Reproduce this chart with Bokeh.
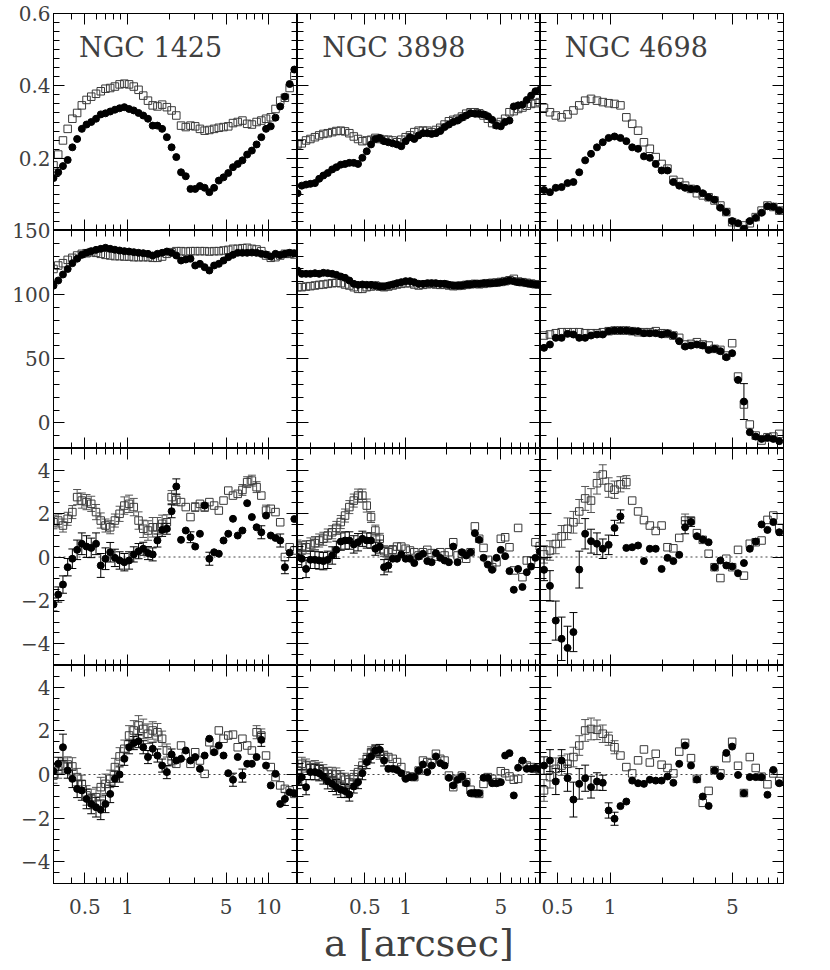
from bokeh.plotting import figure
from bokeh.layouts import gridplot, row, column
from bokeh.models import (Range1d, FixedTicker, LinearAxis, LogAxis, Span, Whisker,
                          TeeHead, ColumnDataSource, Label)
from bokeh.embed import file_html
from bokeh.resources import INLINE

# ---------------------------------------------------------------- data
galaxy_names = ["NGC 1425", "NGC 3898", "NGC 4698"]

# ---- NGC 1425
a_1425 = [0.300, 0.324, 0.350, 0.378, 0.408, 0.441, 0.476, 0.514, 0.555, 0.600, 0.648, 0.700,
          0.756, 0.816, 0.881, 0.952, 1.028, 1.110, 1.200, 1.295, 1.399, 1.511, 1.632, 1.762,
          1.903, 2.056, 2.220, 2.398, 2.590, 2.797, 3.020, 3.262, 3.523, 3.805, 4.110, 4.438,
          4.793, 5.177, 5.591, 6.038, 6.521, 7.043, 7.607, 8.215, 8.872, 9.582, 10.35, 11.18,
          12.07, 13.03, 14.08, 15.20]
ell_1425_f = [0.145, 0.161, 0.178, 0.195, 0.230, 0.253, 0.281, 0.293, 0.300, 0.309, 0.321, 0.324,
              0.329, 0.334, 0.338, 0.341, 0.336, 0.332, 0.325, 0.318, 0.309, 0.290, 0.290, 0.281,
              0.258, 0.230, 0.203, 0.161, 0.150, 0.115, 0.115, 0.123, 0.118, 0.106, 0.118, 0.138,
              0.147, 0.159, 0.175, 0.184, 0.194, 0.210, 0.221, 0.238, 0.258, 0.281, 0.288, 0.312,
              0.343, 0.370, 0.405, 0.445]
ell_1425_o = [0.180, 0.210, 0.249, 0.281, 0.309, 0.325, 0.346, 0.361, 0.370, 0.378, 0.385, 0.392,
              0.394, 0.398, 0.404, 0.406, 0.404, 0.398, 0.389, 0.373, 0.359, 0.346, 0.343, 0.348,
              0.341, 0.332, 0.318, 0.290, 0.286, 0.290, 0.288, 0.281, 0.276, 0.278, 0.281, 0.284,
              0.286, 0.288, 0.297, 0.300, 0.304, 0.295, 0.293, 0.300, 0.304, 0.309, 0.313, 0.336,
              0.359, 0.367, 0.394, 0.428]
pa_1425_f = [107, 111, 115.7, 120, 124.5, 128, 131, 132.6, 133.9, 134.9, 135.7, 136.5,
             135.7, 135, 134.4, 133.9, 133.6, 133.1, 132.6, 132.3, 131.8, 130.5, 131.8, 132.6,
             133.6, 132.6, 130.5, 126.6, 127.4, 128, 122.7, 124, 121.4, 118.8, 122.7, 124,
             126.6, 129.2, 131, 132.6, 132.6, 132.6, 132.8, 132.6, 131.8, 131.3, 129.7, 131.8,
             130.8, 131.8, 132.6, 132.3]
pa_1425_o = [120, 122.7, 124.5, 127.1, 128.7, 130.5, 131.8, 132.3, 133.1, 132.6, 131.8, 131,
             130.5, 130, 130, 129.7, 129.7, 129.2, 129.2, 129.2, 129.2, 128.7, 128.7, 129.7,
             131.8, 133.1, 133.9, 133.9, 133.6, 133.9, 133.9, 133.9, 133.9, 133.6, 133.9, 133.9,
             134.4, 134.9, 135.7, 135.7, 136.2, 136.5, 135.7, 135.2, 133.9, 130.5, 128.7, 129.2,
             130.5, 131.8, 131.8, 131.3]
d4_1425_f = [-2.19, -1.73, -1.27, -0.47, -0.08, 0.33, 0.61, 0.48, 0.42, 0.61, -0.39, -0.08,
             0.22, -0.04, -0.16, -0.24, -0.16, 0.12, 0.27, 0.38, 0.18, 0.12, 0.76, 1.25,
             1.30, 2.11, 3.25, 0.79, 1.22, 0.91, 0.48, 1.07, 2.37, -0.08, 0.22, 0.15,
             0.76, 1.07, 1.76, 0.99, 1.22, 2.48, 1.84, 1.37, 1.14, 1.91, 0.99, 0.88,
             0.76, -0.47, 0.20, 1.75]
d4_1425_o = [1.60, 1.68, 1.45, 1.76, 2.07, 2.76, 2.60, 2.53, 2.45, 2.07, 1.68, 1.45,
             1.37, 1.68, 1.99, 2.37, 2.45, 2.30, 1.68, 1.30, 1.22, 1.37, 1.37, 1.53,
             1.60, 2.76, 2.63, 2.53, 2.30, 1.84, 2.30, 2.45, 2.30, 2.53, 2.37, 2.14,
             2.60, 3.06, 2.83, 2.91, 3.09, 3.45, 3.52, 3.22, 2.83, 2.14, 2.22, 2.07,
             1.60, 0.00, 0.45, 0.30]
d4e_1425_f = [0.3, 0.35, 0.4, 0.4, 0.45, 0.45, 0.5, 0.5, 0.45, 0.5, 0.55, 0.5,
              0.45, 0.4, 0.4, 0.4, 0.4, 0.35, 0.35, 0.3, 0.3, 0.3, 0.3, 0.3,
              0.25, 0.3, 0.35, 0, 0, 0.25, 0, 0, 0, 0.3, 0, 0,
              0, 0, 0, 0, 0, 0, 0, 0, 0.3, 0, 0, 0,
              0.3, 0.3, 0, 0]
d4e_1425_o = [0.3, 0.3, 0.3, 0.3, 0.3, 0.35, 0.35, 0.35, 0.35, 0.35, 0.35, 0.3,
              0.3, 0.3, 0.35, 0.4, 0.4, 0.4, 0.4, 0.4, 0.45, 0.45, 0.45, 0.4,
              0.35, 0.3, 0.25, 0, 0, 0, 0.2, 0, 0.2, 0, 0, 0,
              0, 0, 0, 0, 0.25, 0.25, 0.25, 0.25, 0, 0.25, 0, 0,
              0, 0, 0, 0]
d3_1425_f = [0.15, 0.49, 1.25, 0.18, -0.20, -0.66, -0.73, -1.12, -1.35, -1.50, -1.62, -1.35,
             -0.89, -0.20, 0.00, 0.72, 1.25, 1.44, 1.53, 1.25, 0.80, 1.18, 0.87, 0.41,
             0.11, 0.92, 0.64, 0.72, 1.10, 0.64, 0.80, 0.26, 0.87, 1.64, 1.02, 1.33,
             0.87, 0.06, -0.24, 0.80, -0.05, 0.49, 0.49, 0.80, 1.59, 0.41, -0.50, 0.03,
             -1.35, -1.12, -0.81, -0.86]
d3_1425_o = [-0.05, 0.18, 0.41, 0.46, 0.37, -0.12, -0.43, -0.96, -1.12, -1.04, -0.58, -0.43,
             -0.20, 0.34, 0.83, 1.18, 1.79, 2.02, 2.25, 2.09, 1.87, 2.02, 1.94, 1.64,
             1.10, 0.64, 0.49, 1.33, 0.87, 0.49, 1.02, 0.64, 0.03, 1.48, 1.10, 2.02,
             1.64, 1.79, 1.83, 1.25, 1.64, 1.33, 1.10, 1.94, 1.79, 0.87, 0.34, -0.12,
             -0.50, -0.66, -0.73, -0.89]
d3e_1425_f = [0.3, 0.3, 0.6, 0.35, 0.4, 0.4, 0.45, 0.45, 0.45, 0.45, 0.45, 0.4,
              0.4, 0.35, 0.35, 0.3, 0.3, 0.3, 0.3, 0.3, 0.3, 0.3, 0.3, 0.3,
              0.3, 0.25, 0, 0, 0, 0, 0, 0, 0, 0, 0, 0,
              0, 0, 0.3, 0, 0.3, 0, 0, 0, 0.3, 0, 0, 0,
              0, 0.3, 0, 0]
d3e_1425_o = [0.35, 0.35, 0.35, 0.35, 0.4, 0.4, 0.4, 0.45, 0.45, 0.45, 0.45, 0.45,
              0.4, 0.4, 0.4, 0.4, 0.45, 0.45, 0.45, 0.45, 0.45, 0.4, 0.4, 0.35,
              0.3, 0.25, 0, 0, 0, 0, 0, 0, 0, 0, 0, 0,
              0, 0, 0, 0, 0, 0, 0, 0.3, 0.3, 0, 0, 0,
              0, 0, 0, 0]

# ---- NGC 3898
a_3898 = [0.160, 0.172, 0.185, 0.199, 0.215, 0.231, 0.248, 0.267, 0.288, 0.309, 0.333, 0.358,
          0.385, 0.415, 0.446, 0.480, 0.517, 0.556, 0.598, 0.644, 0.693, 0.745, 0.802, 0.863,
          0.928, 0.999, 1.075, 1.156, 1.244, 1.339, 1.441, 1.550, 1.668, 1.795, 1.931, 2.078,
          2.236, 2.406, 2.589, 2.785, 2.997, 3.225, 3.470, 3.734, 4.017, 4.323, 4.651, 5.005,
          5.385, 5.795, 6.235, 6.709, 7.219, 7.768, 8.358, 8.993, 9.677]
ell_3898_f = [0.103, 0.124, 0.127, 0.129, 0.131, 0.143, 0.152, 0.159, 0.169, 0.175, 0.182, 0.184,
              0.187, 0.187, 0.184, 0.201, 0.219, 0.238, 0.253, 0.256, 0.247, 0.244, 0.241, 0.238,
              0.233, 0.247, 0.258, 0.253, 0.263, 0.269, 0.269, 0.267, 0.269, 0.275, 0.286, 0.293,
              0.300, 0.304, 0.312, 0.318, 0.324, 0.323, 0.323, 0.321, 0.316, 0.306, 0.290, 0.288,
              0.300, 0.304, 0.343, 0.346, 0.348, 0.361, 0.373, 0.385, 0.389]
ell_3898_o = [0.238, 0.241, 0.249, 0.253, 0.258, 0.263, 0.267, 0.269, 0.272, 0.275, 0.276, 0.274,
              0.269, 0.260, 0.253, 0.247, 0.249, 0.251, 0.256, 0.253, 0.251, 0.251, 0.249, 0.244,
              0.251, 0.258, 0.263, 0.272, 0.276, 0.276, 0.276, 0.272, 0.278, 0.284, 0.293, 0.302,
              0.306, 0.309, 0.315, 0.323, 0.327, 0.327, 0.324, 0.318, 0.309, 0.297, 0.293, 0.300,
              0.309, 0.327, 0.330, 0.336, 0.340, 0.345, 0.350, 0.352, 0.355]
pa_3898_f = [118.8, 116.2, 116.2, 116.2, 116.7, 116.2, 117, 116.7, 116.2, 115.4, 114.1, 113.1,
             111, 108.4, 107.6, 107.9, 107.6, 107.6, 107.1, 106.3, 106.3, 107.1, 107.9, 108.9,
             109.7, 110.5, 110.5, 109.7, 108.4, 108.4, 108.9, 108.9, 108.9, 108.4, 108.4, 107.6,
             107.1, 107.1, 107.1, 107.9, 107.9, 108.4, 108.4, 108.9, 108.9, 108.9, 109.2, 109.7,
             110.2, 111, 110.5, 109.7, 109.7, 108.9, 108.4, 107.9, 107.6]
pa_3898_o = [105.8, 105.8, 106.3, 106.6, 107.1, 107.6, 107.9, 108.4, 108.9, 109.2, 108.9, 107.9,
             107.1, 105.8, 104.5, 104.5, 105.8, 106.3, 107.1, 106.3, 105.8, 106.3, 107.1, 107.9,
             108.4, 108.9, 108.9, 107.9, 107.1, 107.6, 108.1, 108.4, 107.9, 107.6, 107.9, 107.1,
             106.6, 106.8, 107.1, 107.6, 108.1, 108.4, 108.1, 108.4, 108.9, 109.2, 109.4, 109.9,
             110.5, 111.2, 112.3, 110.2, 109.7, 109.2, 108.6, 108.1, 107.9]
d4_3898_f = [0.00, -0.08, -0.55, -0.13, -0.13, -0.16, -0.19, -0.13, 0.07, 0.33, 0.71, 0.76,
             0.76, 0.58, 0.68, 0.84, 0.76, 0.76, 0.38, 0.48, -0.47, -0.39, -0.08, -0.08,
             0.12, -0.08, -0.08, -0.28, 0.02, 0.15, -0.19, -0.24, 0.18, -0.04, -0.16, -0.24,
             0.48, -0.24, 0.22, 0.07, 0.22, 1.10, 0.79, -0.04, -0.35, -0.59, -0.04, 0.33,
             0.04, -0.65, -1.51, -0.55, -1.38, -0.70, -0.44, -0.04, 0.25]
d4_3898_o = [0.48, 0.42, 0.45, 0.58, 0.64, 0.76, 0.84, 0.99, 1.14, 1.34, 1.61, 1.91,
             2.30, 2.60, 2.83, 2.83, 2.37, 1.84, 1.22, 0.84, 0.27, 0.22, 0.33, 0.48,
             0.48, 0.38, 0.30, 0.22, 0.07, 0.22, 0.33, 0.18, 0.02, 0.22, 0.07, 0.22,
             0.68, 0.07, 0.15, -0.08, 0.22, 1.41, 0.84, 0.42, -0.13, -0.47, -0.24, 0.84,
             0.91, 0.45, -0.62, 1.34, -0.93, -0.16, -0.16, 0.68, 0.50]
d4e_3898_f = [0.35, 0.4, 0.4, 0.4, 0.4, 0.4, 0.4, 0.4, 0.4, 0.4, 0.4, 0.4,
              0.4, 0.4, 0.4, 0.35, 0.35, 0.35, 0.3, 0.3, 0.35, 0.3, 0, 0,
              0, 0, 0, 0, 0, 0, 0, 0, 0, 0, 0, 0,
              0, 0, 0, 0, 0, 0, 0, 0, 0, 0, 0, 0,
              0, 0, 0, 0, 0, 0, 0, 0, 0]
d4e_3898_o = [0.3, 0.3, 0.3, 0.3, 0.3, 0.3, 0.3, 0.3, 0.3, 0.3, 0.3, 0.3,
              0.3, 0.3, 0.3, 0.3, 0.3, 0.25, 0.25, 0.25, 0.25, 0.25, 0.2, 0,
              0, 0, 0, 0, 0, 0, 0, 0, 0, 0, 0, 0,
              0, 0, 0, 0, 0, 0, 0, 0, 0, 0, 0, 0,
              0, 0, 0, 0, 0, 0, 0, 0, 0]
d3_3898_f = [-0.30, -0.12, -0.58, 0.11, 0.11, 0.06, -0.09, -0.31, -0.43, -0.58, -0.70, -0.76,
             -0.92, -0.55, -0.35, 0.06, 0.57, 0.83, 1.10, 1.13, 0.64, 0.26, 0.26, 0.21,
             0.06, -0.20, -0.12, -0.12, 0.18, 0.46, 0.11, 0.41, 0.83, 0.52, 0.41, -0.15,
             -0.50, -0.24, -0.09, -0.40, -0.86, -0.86, -0.86, -0.15, -0.15, -0.40, -0.40, -0.35,
             0.87, 0.98, -0.96, 0.31, 0.64, 0.26, 0.26, 0.30, 0.25]
d3_3898_o = [0.18, 0.49, 0.41, 0.31, 0.34, 0.26, 0.15, 0.03, 0.03, 0.00, -0.12, -0.24,
             -0.35, -0.12, 0.11, 0.41, 0.72, 1.02, 1.10, 0.95, 0.87, 0.80, 0.72, 0.57,
             0.34, -0.05, -0.09, -0.12, 0.18, 0.64, 0.57, 0.52, 0.95, 0.72, 0.64, -0.05,
             -0.58, -0.20, -0.05, -0.35, -0.70, -0.86, -0.89, -0.43, -0.12, -0.20, -0.35, 0.15,
             0.06, -0.09, -0.24, -0.20, 0.49, 0.41, 0.34, 0.26, 0.20]
d3e_3898_f = [0.35, 0.35, 0.35, 0.35, 0.35, 0.35, 0.35, 0.35, 0.35, 0.35, 0.35, 0.3,
              0.3, 0.3, 0.3, 0.3, 0.3, 0.3, 0.25, 0.25, 0.25, 0, 0, 0,
              0, 0, 0, 0, 0, 0, 0, 0, 0, 0, 0, 0,
              0, 0, 0, 0, 0, 0, 0, 0, 0, 0, 0, 0,
              0, 0, 0, 0, 0, 0, 0, 0, 0]
d3e_3898_o = [0.3, 0.3, 0.3, 0.3, 0.3, 0.3, 0.3, 0.3, 0.3, 0.3, 0.3, 0.3,
              0.3, 0.3, 0.3, 0.3, 0.25, 0.25, 0.25, 0.25, 0.2, 0, 0, 0,
              0, 0, 0, 0, 0, 0, 0, 0, 0, 0, 0, 0,
              0, 0, 0, 0, 0, 0, 0, 0, 0, 0, 0, 0,
              0, 0, 0, 0, 0, 0, 0, 0, 0]

# ---- NGC 4698
a_4698 = [0.419, 0.453, 0.489, 0.528, 0.571, 0.617, 0.666, 0.720, 0.778, 0.841, 0.908, 0.981,
          1.060, 1.146, 1.238, 1.337, 1.445, 1.561, 1.687, 1.823, 1.970, 2.128, 2.299, 2.484,
          2.684, 2.900, 3.134, 3.386, 3.658, 3.953, 4.271, 4.615, 4.986, 5.387, 5.821, 6.289,
          6.796, 7.343, 7.933, 8.572, 9.262]
ell_4698_f = [0.112, 0.106, 0.118, 0.120, 0.131, 0.134, 0.161, 0.194, 0.212, 0.230, 0.244, 0.256,
              0.260, 0.256, 0.247, 0.230, 0.226, 0.205, 0.201, 0.184, 0.166, 0.166, 0.134, 0.124,
              0.118, 0.115, 0.115, 0.103, 0.092, 0.085, 0.063, 0.051, 0.026, 0.020, 0.005, 0.026,
              0.035, 0.049, 0.067, 0.066, 0.055]
ell_4698_o = [0.339, 0.327, 0.318, 0.313, 0.321, 0.332, 0.346, 0.359, 0.364, 0.359, 0.355, 0.352,
              0.350, 0.346, 0.313, 0.295, 0.276, 0.244, 0.226, 0.203, 0.184, 0.171, 0.140, 0.134,
              0.124, 0.115, 0.103, 0.097, 0.092, 0.083, 0.069, 0.051, 0.023, 0.011, 0.014, 0.020,
              0.037, 0.055, 0.069, 0.065, 0.055]
pa_4698_f = [58.5, 61.1, 66.3, 66.3, 69.4, 68.9, 66.3, 66.3, 68.1, 68.9, 68.9, 71.5,
             72, 72, 72, 71.5, 71.5, 69.9, 69.9, 69.9, 68.9, 69.9, 68.1, 63.7,
             59.5, 60.3, 61.1, 60.3, 56.9, 57.7, 55.9, 51.2, 54.3, 33.5, 16.6, -7.3,
             -10.7, -12.5, -11.7, -12.5, -14.3]
pa_4698_o = [68.1, 68.9, 69.9, 70.7, 70.7, 70.7, 70.7, 69.9, 69.9, 69.9, 70.7, 71.5,
             72, 72, 72, 71.5, 70.7, 70.7, 70.7, 71.5, 69.9, 69.4, 68.1, 66.3,
             61.1, 61.6, 62.9, 61.1, 60.3, 57.7, 56.9, 52.5, 62.1, 36.1, 14.3, -1.3,
             -9.9, -13.8, -11.2, -10.7, -8.6]
pae_4698_f = [0, 0, 0, 0, 0, 0, 0, 0, 0, 0, 0, 0,
              0, 0, 0, 0, 0, 0, 0, 0, 0, 0, 0, 0,
              0, 0, 0, 0, 0, 0, 0, 0, 0, 0, 14, 0,
              0, 0, 0, 0, 0]
d4_4698_f = [-0.59, -1.33, -2.93, -3.77, -4.19, -3.46, -0.58, 1.07, 0.73, 0.61, 0.38, 0.56,
             1.34, 1.87, 0.42, 0.45, 0.53, -0.19, 0.38, 0.38, -0.55, -0.04, -0.19, 0.10,
             1.37, 1.61, 0.96, 0.81, 0.68, -0.47, -0.16, -0.39, -0.44, -0.75, -0.28, 0.38,
             0.71, 1.50, 1.25, 1.61, 1.14]
d4_4698_o = [0.12, 0.30, 0.60, 0.95, 1.30, 1.60, 2.10, 2.70, 2.60, 3.40, 3.80, 3.20,
             3.10, 3.35, 3.45, 2.60, 2.10, 1.70, 1.45, 1.20, 1.45, 0.45, 0.40, 0.88,
             1.68, 1.68, 1.10, 0.79, 0.15, -0.47, -0.97, -0.08, -0.47, 0.33, -0.86, 0.61,
             0.68, 0.76, 1.71, 1.91, 1.34]
d4e_4698_f = [0.5, 0.7, 0.9, 1.0, 1.0, 0.9, 0.85, 0.7, 0.55, 0.5, 0.45, 0.45,
              0.35, 0.3, 0, 0, 0, 0, 0, 0, 0, 0, 0, 0,
              0.3, 0.2, 0, 0, 0, 0, 0, 0, 0, 0, 0, 0,
              0, 0, 0, 0, 0]
d4e_4698_o = [0.4, 0.45, 0.45, 0.5, 0.5, 0.5, 0.55, 0.55, 0.55, 0.5, 0.45, 0.45,
              0.4, 0.35, 0.3, 0, 0, 0, 0, 0, 0, 0, 0, 0,
              0.3, 0, 0, 0, 0, 0, 0, 0, 0, 0, 0, 0,
              0, 0, 0, 0, 0]
d3_4698_f = [0.41, 0.64, -0.32, 0.64, -0.17, -1.15, -0.43, -0.17, -0.58, -0.32, -0.38, -1.65,
             -2.03, -1.45, -1.24, -0.28, -0.40, -0.43, -0.24, -0.28, -0.28, -0.09, -0.38, 0.49,
             1.33, 0.41, -0.23, -1.01, -1.44, 0.18, -0.08, 0.99, 1.28, -0.02, -0.86, -0.12,
             -0.12, -0.12, -0.93, 0.21, -0.40]
d3_4698_o = [-0.73, -0.12, 0.26, 0.41, 0.49, 0.80, 1.33, 2.02, 2.09, 2.05, 1.87, 1.64,
             1.25, 0.87, 0.34, 0.05, 0.65, 1.15, 0.55, 0.95, 0.45, 0.30, 0.05, 1.05,
             1.45, 0.75, -0.20, -1.30, -0.75, 0.20, 0.05, 0.75, 1.50, 0.40, -0.85, 0.80,
             0.30, -0.10, -0.45, 0.05, -0.30]
d3e_4698_f = [0.4, 0.5, 0.6, 0.5, 0.6, 0.8, 0.7, 0.6, 0.5, 0.4, 0.35, 0.35,
              0.3, 0, 0, 0, 0, 0, 0, 0, 0, 0, 0, 0,
              0, 0, 0, 0, 0, 0, 0, 0, 0, 0, 0, 0,
              0, 0, 0, 0, 0]
d3e_4698_o = [0.5, 0.5, 0.5, 0.45, 0.45, 0.45, 0.45, 0.5, 0.5, 0.45, 0.4, 0.3,
              0.3, 0, 0, 0, 0, 0, 0, 0, 0, 0, 0, 0,
              0, 0, 0, 0, 0, 0, 0, 0, 0, 0, 0, 0,
              0, 0, 0, 0, 0]

# axis ticks and labels
x_major_ticks = [[0.5, 1, 5, 10], [0.5, 1, 5], [0.5, 1, 5]]
x_minor_ticks = [[0.3, 0.4, 0.6, 0.7, 0.8, 0.9, 2, 3, 4, 6, 7, 8, 9],
                 [0.2, 0.3, 0.4, 0.6, 0.7, 0.8, 0.9, 2, 3, 4, 6, 7, 8, 9],
                 [0.6, 0.7, 0.8, 0.9, 2, 3, 4, 6, 7, 8, 9]]
x_tick_labels = {0.5: "0.5", 1: "1", 5: "5", 10: "10"}
y_major_ticks = [[0.2, 0.4, 0.6], [0, 50, 100, 150], [-4, -2, 0, 2, 4], [-4, -2, 0, 2, 4]]
y_tick_labels_pm = {-4: "\u22124", -2: "\u22122", 0: "0", 2: "2", 4: "4"}
x_label = "a [arcsec]"

# ---------------------------------------------------------------- layout/style
FONT = "DejaVu Serif"
TXT = "#404040"
FW = [244, 243, 243]
FH = [217, 218, 217, 218]
TOP = 13
LEFT = 53
XR = [(0.3, 16.0), (0.16, 9.8), (0.4, 9.8)]
YR = [(0.0, 0.6), (-20.0, 150.0), (-5.0, 5.0), (-5.0, 5.0)]
y_minor_ticks = [[round(0.025 * i, 3) for i in range(0, 25)],
                 list(range(-20, 151, 10)),
                 [0.5 * i for i in range(-10, 11)],
                 [0.5 * i for i in range(-10, 11)]]
MAJ_LEN, MIN_LEN = 11, 6
SHIFT = 16  # px: the row-1/row-2 boundary of the label strip is moved up so "150" is not cut

gal_data = [
    dict(a=a_1425, rows=[(ell_1425_f, ell_1425_o, None, None),
                         (pa_1425_f, pa_1425_o, None, None),
                         (d4_1425_f, d4_1425_o, d4e_1425_f, d4e_1425_o),
                         (d3_1425_f, d3_1425_o, d3e_1425_f, d3e_1425_o)],
         label_at=(0.455, 0.505)),
    dict(a=a_3898, rows=[(ell_3898_f, ell_3898_o, None, None),
                         (pa_3898_f, pa_3898_o, None, None),
                         (d4_3898_f, d4_3898_o, d4e_3898_f, d4e_3898_o),
                         (d3_3898_f, d3_3898_o, d3e_3898_f, d3e_3898_o)],
         label_at=(0.243, 0.505)),
    dict(a=a_4698, rows=[(ell_4698_f, ell_4698_o, None, None),
                         (pa_4698_f, pa_4698_o, pae_4698_f, None),
                         (d4_4698_f, d4_4698_o, d4e_4698_f, d4e_4698_o),
                         (d3_4698_f, d3_4698_o, d3e_4698_f, d3e_4698_o)],
         label_at=(0.55, 0.505)),
]


def labeled_axis(log, ticks, minor, overrides, standoff):
    ax = LogAxis() if log else LinearAxis()
    ax.ticker = FixedTicker(ticks=ticks, minor_ticks=minor)
    ax.major_tick_in = MAJ_LEN
    ax.major_tick_out = 0
    ax.minor_tick_in = MIN_LEN
    ax.minor_tick_out = 0
    ax.axis_line_color = "black"
    ax.major_tick_line_color = "black"
    ax.minor_tick_line_color = "black"
    ax.major_label_text_font = FONT
    ax.major_label_text_font_size = "20px"
    ax.major_label_text_color = TXT
    ax.major_label_standoff = standoff
    if overrides:
        ax.major_label_overrides = overrides
    return ax


def tick_only_axes(p, side, log, ticks, minor):
    # two label-free axes: long marks at the major positions, short ones at the minor positions
    for pos, length in ((ticks, MAJ_LEN), (minor, MIN_LEN)):
        ax = LogAxis() if log else LinearAxis()
        ax.ticker = FixedTicker(ticks=[], minor_ticks=pos)
        ax.major_tick_in = 0
        ax.major_tick_out = 0
        ax.minor_tick_in = length
        ax.minor_tick_out = 0
        ax.major_label_standoff = 0
        ax.axis_line_color = "black"
        ax.minor_tick_line_color = "black"
        p.add_layout(ax, side)


def add_err(p, x, y, e, color):
    xs, lo, hi = [], [], []
    for xi, yi, ei in zip(x, y, e):
        if ei > 0:
            xs.append(xi)
            lo.append(yi - ei)
            hi.append(yi + ei)
    src = ColumnDataSource(dict(base=xs, lower=lo, upper=hi))
    w = Whisker(source=src, base="base", lower="lower", upper="upper",
                line_color=color, line_width=1,
                upper_head=TeeHead(size=8, line_color=color, line_width=1),
                lower_head=TeeHead(size=8, line_color=color, line_width=1))
    p.add_layout(w)


# ---- strip of y tick labels at the left (its own figures, same scales as the panel rows)
label_figs = []
for r in range(4):
    lo, hi = YR[r]
    per_px = (hi - lo) / FH[r]
    fh = FH[r]
    if r == 0:
        lo = lo + SHIFT * per_px
        fh = FH[r] - SHIFT
    elif r == 1:
        hi = hi + SHIFT * per_px
        fh = FH[r] + SHIFT
    lp = figure(x_range=Range1d(0, 1), y_range=Range1d(lo, hi),
                frame_width=1, frame_height=fh,
                x_axis_location=None, y_axis_location=None,
                output_backend="svg", toolbar_location=None,
                min_border_left=LEFT - 1, min_border_right=0,
                min_border_top=TOP if r == 0 else 0, min_border_bottom=0)
    lp.outline_line_color = None
    lp.grid.visible = False
    lp.background_fill_color = "white"
    lp.border_fill_color = "white"
    ax = LinearAxis(ticker=FixedTicker(ticks=y_major_ticks[r], minor_ticks=[]))
    ax.major_tick_in = 0
    ax.major_tick_out = 0
    ax.minor_tick_in = 0
    ax.minor_tick_out = 0
    ax.axis_line_color = None
    ax.major_tick_line_color = None
    ax.minor_tick_line_color = None
    ax.major_label_text_font = FONT
    ax.major_label_text_font_size = "20px"
    ax.major_label_text_color = TXT
    ax.major_label_standoff = 2
    if r >= 2:
        ax.major_label_overrides = y_tick_labels_pm
    lp.add_layout(ax, "left")
    label_figs.append(lp)

# ---- the 4 x 3 panels
grid = []
for r in range(4):
    row_figs = []
    for c in range(3):
        g = gal_data[c]
        p = figure(x_axis_type="log", x_range=Range1d(*XR[c]), y_range=Range1d(*YR[r]),
                   frame_width=FW[c], frame_height=FH[r],
                   x_axis_location=None, y_axis_location=None,
                   output_backend="svg", toolbar_location=None,
                   min_border_left=0,
                   min_border_right=2 if c == 2 else 0,
                   min_border_top=TOP if r == 0 else 0,
                   min_border_bottom=80 if r == 3 else 0)
        p.grid.visible = False
        p.outline_line_color = "black"
        p.outline_line_width = 1
        p.background_fill_color = "white"
        p.border_fill_color = "white"

        # bottom
        if r == 3:
            bottom = labeled_axis(True, x_major_ticks[c], x_minor_ticks[c], x_tick_labels, 15)
            if c == 1:
                bottom.axis_label = x_label
                bottom.axis_label_text_font = FONT
                bottom.axis_label_text_font_size = "38px"
                bottom.axis_label_text_font_style = "normal"
                bottom.axis_label_text_color = TXT
                bottom.axis_label_standoff = 4
            p.add_layout(bottom, "below")
        else:
            tick_only_axes(p, "below", True, x_major_ticks[c], x_minor_ticks[c])
        tick_only_axes(p, "above", True, x_major_ticks[c], x_minor_ticks[c])
        tick_only_axes(p, "left", False, y_major_ticks[r], y_minor_ticks[r])
        tick_only_axes(p, "right", False, y_major_ticks[r], y_minor_ticks[r])

        if r >= 2:
            sp = Span(location=0, dimension="width", line_color="#444444",
                      line_dash="2 3", line_width=1, level="underlay")
            p.add_layout(sp)

        yf, yo, ef, eo = g["rows"][r]
        if eo is not None:
            add_err(p, g["a"], yo, eo, "#555555")
        if ef is not None:
            add_err(p, g["a"], yf, ef, "black")
        p.scatter(g["a"], yo, marker="square", size=7.5, fill_alpha=0,
                  line_color="#3a3a3a", line_width=1)
        p.scatter(g["a"], yf, marker="circle", size=7, fill_color="black",
                  line_color="black")

        if r == 0:
            lx, ly = g["label_at"]
            p.add_layout(Label(x=lx, y=ly, text=galaxy_names[c], text_font=FONT,
                               text_font_size="27px", text_color=TXT,
                               text_baseline="middle", text_align="left"))
        row_figs.append(p)
    grid.append(row_figs)

panels = gridplot(grid, toolbar_location=None)
layout = row(column(*label_figs), panels)
open("out.html", "w").write(file_html(layout, INLINE))
